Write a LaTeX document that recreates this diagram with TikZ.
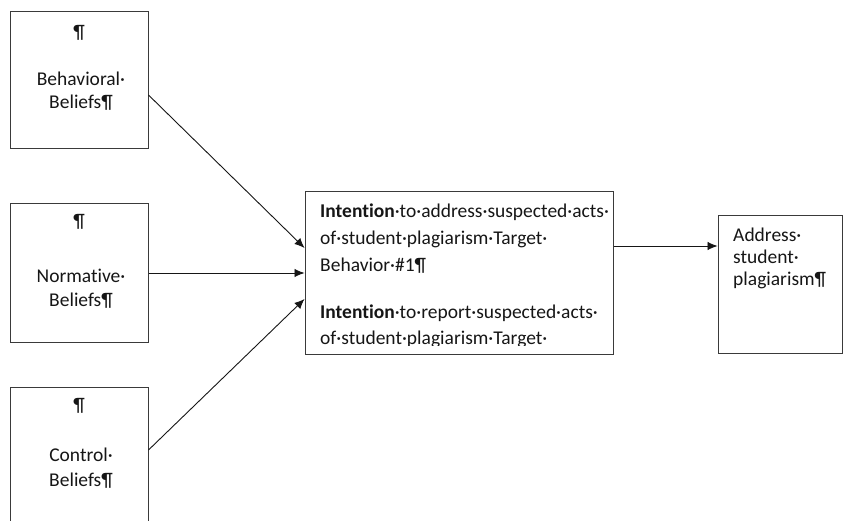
\documentclass[tikz,border=0pt]{standalone}
\usepackage{fontspec}
\setmainfont{Carlito}[Ligatures={NoCommon}]
\usetikzlibrary{arrows.meta}
\definecolor{ink}{HTML}{161616}
\definecolor{edge}{HTML}{3A3A3A}
\tikzset{
  box/.style={draw=edge, line width=1pt, rectangle, inner sep=0pt, fill=white},
  txt/.style={text=ink, inner sep=0pt, font=\fontsize{19.5}{23}\selectfont},
  ctxt/.style={txt, anchor=base},
  ltxt/.style={txt, anchor=base west},
  link/.style={draw=ink, line width=0.9pt, -{Latex[length=10pt,width=8.5pt]}}
}
\begin{document}
\begin{tikzpicture}[x=1pt,y=-1pt]
\useasboundingbox (0,0) rectangle (845,521);
\fill[white] (0,0) rectangle (845,521);
\clip (0,0) rectangle (845,521);

% belief boxes on the left
\node[box, minimum width=138pt, minimum height=137pt] (b1) at (79,80.5) {};
\node[box, minimum width=138pt, minimum height=138pt] (b2) at (79,273) {};
\node[box, minimum width=138pt, minimum height=138pt] (b3) at (79,456) {};

\node[ctxt] (b1p) at (79,39) {¶};
\node[ctxt] (b1a) at (81,86) {Behavioral·};
\node[ctxt] (b1b) at (81,109) {Beliefs¶};

\node[ctxt] (b2p) at (79,228) {¶};
\node[ctxt] (b2a) at (81,282) {Normative·};
\node[ctxt] (b2b) at (81,306) {Beliefs¶};

\node[ctxt] (b3p) at (79,411) {¶};
\node[ctxt] (b3a) at (81,461) {Control·};
\node[ctxt] (b3b) at (81,486) {Beliefs¶};

% intention box
\node[box, minimum width=308pt, minimum height=162pt] (mid) at (459,273) {};
\begin{scope}
  \clip (306,193) rectangle (612,345);
  \node[ltxt] (m1) at (320,218) {\textbf{Intention}·to·address·suspected·acts·};
  \node[ltxt] (m2) at (320,244) {of·student·plagiarism·Target·};
  \node[ltxt] (m3) at (320,271) {Behavior·\#1¶};
  \node[ltxt] (m4) at (320,318) {\textbf{Intention}·to·report·suspected·acts·};
  \node[ltxt] (m5) at (320,344) {of·student·plagiarism·Target·};
\end{scope}

% behaviour box
\node[box, minimum width=124pt, minimum height=137pt] (act) at (780,284.5) {};
\node[ltxt] (a1) at (733,241) {Address·};
\node[ltxt] (a2) at (733,263) {student·};
\node[ltxt] (a3) at (733,285) {plagiarism¶};

% connectors
\draw[link] ([yshift=-14.5pt]b1.east) -- ([yshift=25pt]mid.west);
\draw[link] (b2.east) -- (mid.west);
\draw[link] ([yshift=6pt]b3.east) -- ([yshift=-26pt]mid.west);
\draw[link] ([yshift=27pt]mid.east) -- ([yshift=27pt]mid.east -| act.west);
\end{tikzpicture}
\end{document}
